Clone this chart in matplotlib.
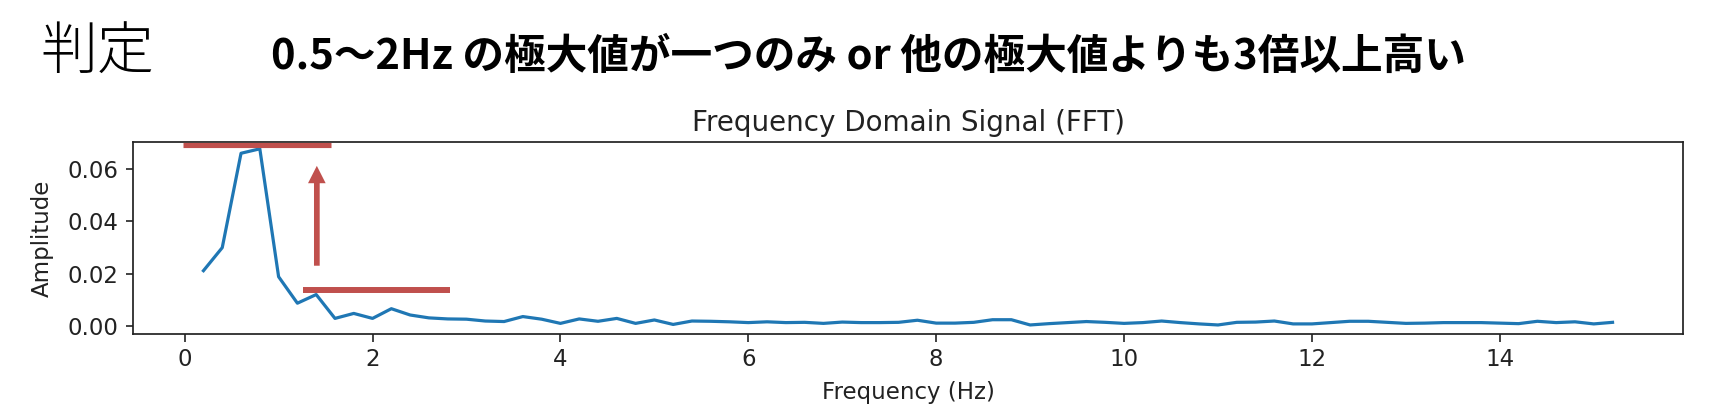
import numpy as np
import matplotlib
matplotlib.use("Agg")
import matplotlib.pyplot as plt

# ---- data ----
freq_step = 0.2
amplitude = [
    0.0211, 0.0299, 0.0659, 0.0676, 0.0188, 0.0087, 0.0120, 0.0029, 0.0048, 0.0029,
    0.0066, 0.0042, 0.0031, 0.0027, 0.0026, 0.0019, 0.0017, 0.0036, 0.0026, 0.0010,
    0.0027, 0.0018, 0.0029, 0.0010, 0.0023, 0.0006, 0.0019, 0.0018, 0.0016, 0.0013,
    0.0016, 0.0013, 0.0014, 0.0010, 0.0015, 0.0013, 0.0013, 0.0014, 0.0022, 0.0011,
    0.0011, 0.0014, 0.0024, 0.0024, 0.0004, 0.0009, 0.0013, 0.0017, 0.0014, 0.0010,
    0.0013, 0.0019, 0.0013, 0.0008, 0.0004, 0.0014, 0.0015, 0.0019, 0.0008, 0.0008,
    0.0013, 0.0018, 0.0018, 0.0014, 0.0010, 0.0011, 0.0013, 0.0013, 0.0013, 0.0011,
    0.0009, 0.0018, 0.0013, 0.0016, 0.0008, 0.0014,
]
freqs = freq_step * np.arange(1, len(amplitude) + 1)

x_ticks = [0, 2, 4, 6, 8, 10, 12, 14]
y_ticks = [0.00, 0.02, 0.04, 0.06]
x_limits = (-0.55, 15.95)
y_limits = (-0.00305, 0.0702)

title_left = "判定"
heading = "0.5〜2Hz の極大値が一つのみ or 他の極大値よりも3倍以上高い"
plot_title = "Frequency Domain Signal (FFT)"
x_label = "Frequency (Hz)"
y_label = "Amplitude"

# annotation guides (data coordinates)
top_guide = dict(x=(-0.014, 1.562), y=0.0692)
low_guide = dict(x=(1.264, 2.823), y=0.01374)
arrow_guide = dict(x=1.407, y=(0.0230, 0.0611))

RED = "#C0504D"
BLUE = "#1f77b4"
JP = ["Noto Sans CJK JP", "DejaVu Sans"]

plt.rcParams["font.family"] = ["DejaVu Sans"]

W, H = 1712, 418
fig = plt.figure(figsize=(W / 100, H / 100), dpi=100)
ax = fig.add_axes([133 / W, 1 - 334 / H, (1683 - 133) / W, (334 - 142) / H])

ax.plot(freqs, amplitude, color=BLUE, lw=2.3)
ax.set_xticks(x_ticks)
ax.set_yticks(y_ticks)
ax.yaxis.set_major_formatter(matplotlib.ticker.FormatStrFormatter("%.2f"))
ax.tick_params(labelsize=16.5, width=1.2, length=5.4, pad=5, colors="#222222")
for s in ax.spines.values():
    s.set_linewidth(1.25)
    s.set_color("#222222")
ax.set_title(plot_title, fontsize=20, pad=8, color="#222222")
ax.set_xlabel(x_label, fontsize=16.5, labelpad=7, color="#222222")
ax.set_ylabel(y_label, fontsize=16.5, labelpad=10, color="#222222")

# red guides
ax.plot(top_guide["x"], [top_guide["y"]] * 2, color=RED, lw=3.7,
        solid_capstyle="butt", clip_on=False, zorder=5)
ax.plot(low_guide["x"], [low_guide["y"]] * 2, color=RED, lw=4.3,
        solid_capstyle="butt", clip_on=False, zorder=5)
ax.annotate("", xy=(arrow_guide["x"], arrow_guide["y"][1]),
            xytext=(arrow_guide["x"], arrow_guide["y"][0]),
            arrowprops=dict(arrowstyle="simple,head_length=12.5,head_width=12.7,tail_width=4.1",
                            mutation_scale=1, color=RED, lw=0, shrinkA=0, shrinkB=0),
            zorder=5)

ax.set_xlim(*x_limits)
ax.set_ylim(*y_limits)

# slide texts
fig.text(40 / W, 1 - 53 / H, title_left, family=JP, weight="light",
         fontsize=41, va="center", ha="left")
fig.text(271 / W, 1 - 57 / H, heading, family=JP, weight="bold",
         fontsize=30, va="center", ha="left")

fig.savefig("out.png", dpi=100)
